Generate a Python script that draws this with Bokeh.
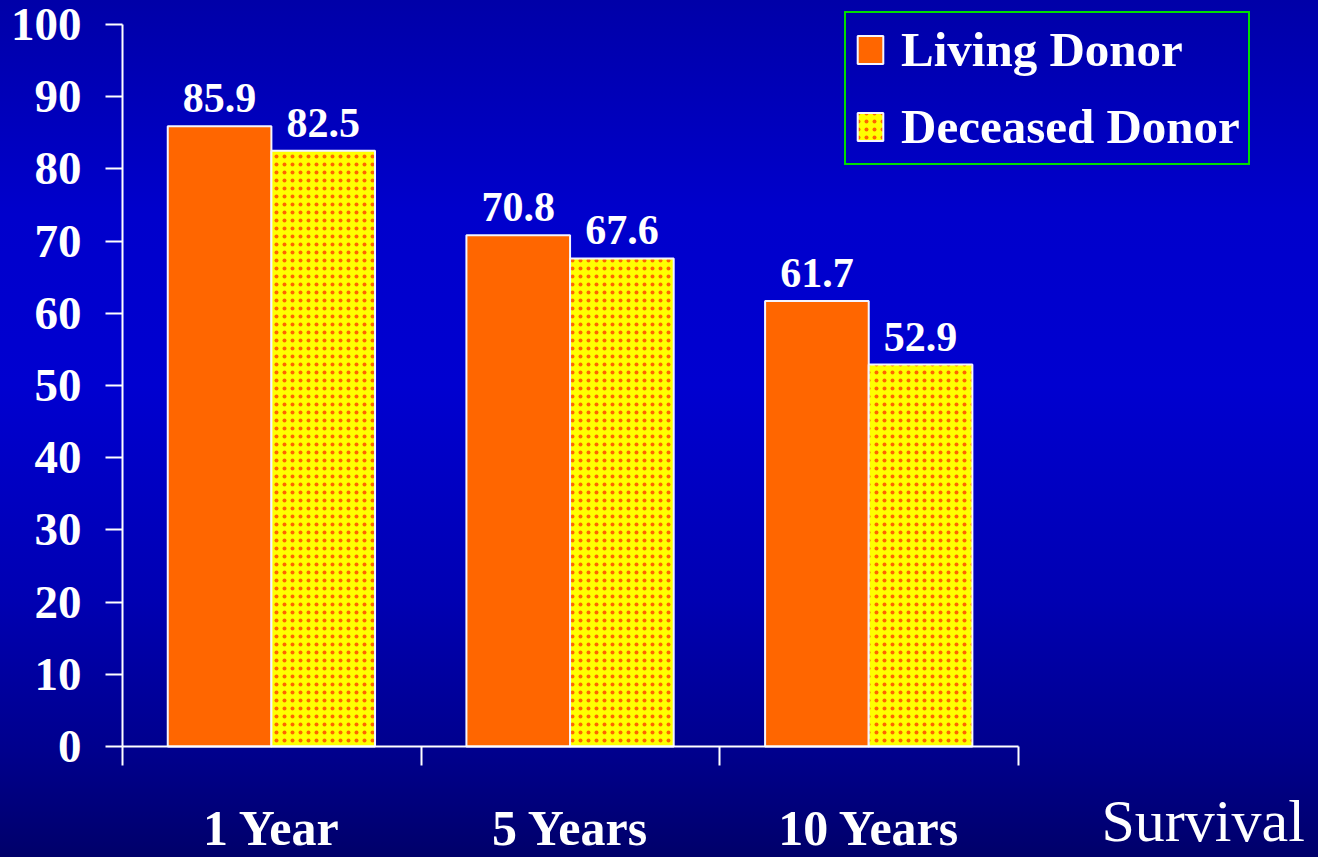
from bokeh.core.properties import value
from bokeh.embed import file_html
from bokeh.models import (ColumnDataSource, FixedTicker, InlineStyleSheet,
                          Label, Range1d)
from bokeh.plotting import figure
from bokeh.resources import INLINE

# Graft survival (%) by donor type
periods = ["1 Year", "5 Years", "10 Years"]
living = [85.9, 70.8, 61.7]
deceased = [82.5, 67.6, 52.9]
y_ticks = [0, 10, 20, 30, 40, 50, 60, 70, 80, 90, 100]

SERIF = "Liberation Serif"
W, H = 1318, 857

# Page geometry (pixels): plot origin and scale of one unit on each axis
X0_PX, PX_PER_X = 122, 298.67      # x = 0 at 122 px, one period = 298.67 px
Y0_PX, PX_PER_Y = 746, 7.22        # y = 0 at 746 px from the top

idx = list(range(len(periods)))
label_lift = 28 / PX_PER_Y          # raises the value labels clear of the bar tops
src = ColumnDataSource(dict(
    x_live=[i + 0.325 for i in idx],
    x_dec=[i + 0.672 for i in idx],
    living=living,
    deceased=deceased,
    living_lbl=[v + label_lift for v in living],
    deceased_lbl=[v + label_lift for v in deceased],
    living_txt=[f"{v:.1f}" for v in living],
    deceased_txt=[f"{v:.1f}" for v in deceased],
))

# The frame spans the whole canvas; axes are pinned at x = 0 and y = 0
x_lo = -X0_PX / PX_PER_X
x_hi = (W - X0_PX) / PX_PER_X
y_hi = Y0_PX / PX_PER_Y
y_lo = -(H - Y0_PX) / PX_PER_Y

p = figure(width=W, height=H,
           x_range=Range1d(x_lo, x_hi), y_range=Range1d(y_lo, y_hi),
           output_backend="svg", toolbar_location=None, min_border=0)

p.background_fill_alpha = 0
p.border_fill_alpha = 0
p.outline_line_color = None
p.xgrid.grid_line_color = None
p.ygrid.grid_line_color = None
p.stylesheets.append(InlineStyleSheet(css="""
:host {
  background: linear-gradient(to bottom, #0000a8 0%, #0000cc 25%, #0000d0 45%,
                              #0000b2 70%, #00008c 88%, #00006a 100%);
}
"""))

bar_w = 0.347
p.vbar(x="x_live", top="living", width=bar_w, source=src,
       fill_color="#ff6600", line_color="#f4f4ff", line_width=2,
       legend_label="Living Donor")
p.vbar(x="x_dec", top="deceased", width=bar_w, source=src,
       fill_color="#ffff00", hatch_pattern="dot", hatch_color="#ff6600",
       hatch_scale=8, hatch_weight=4.5,
       line_color="#f4f4ff", line_width=2,
       legend_label="Deceased Donor")

for xcol, ycol, tcol in (("x_live", "living_lbl", "living_txt"),
                         ("x_dec", "deceased_lbl", "deceased_txt")):
    p.text(x=xcol, y=ycol, text=tcol, source=src,
           text_font=value(SERIF), text_font_style="bold", text_font_size="42px",
           text_color="white", text_align="center", text_baseline="alphabetic")

# y axis
ya = p.yaxis[0]
ya.fixed_location = 0
ya.bounds = (y_ticks[0], y_ticks[-1])
ya.ticker = FixedTicker(ticks=y_ticks)
ya.axis_line_color = "white"
ya.axis_line_width = 2
ya.major_tick_line_color = "white"
ya.major_tick_line_width = 2
ya.major_tick_out = 17
ya.major_tick_in = 0
ya.minor_tick_line_color = None
ya.major_label_text_font = SERIF
ya.major_label_text_font_style = "bold"
ya.major_label_text_font_size = "47px"
ya.major_label_text_color = "white"
ya.major_label_standoff = 24

# x axis: labels centred on each period, tick marks on the boundaries
xa = p.xaxis[0]
xa.fixed_location = 0
xa.bounds = (0, len(periods))
centres = [i + 0.5 for i in idx]
xa.ticker = FixedTicker(ticks=centres, minor_ticks=[0] + [i + 1 for i in idx])
xa.major_label_overrides = {c: name for c, name in zip(centres, periods)}
xa.axis_line_color = "white"
xa.axis_line_width = 2
xa.major_tick_line_color = None
xa.major_tick_out = 0
xa.major_tick_in = 0
xa.minor_tick_line_color = "white"
xa.minor_tick_line_width = 2
xa.minor_tick_out = 19
xa.minor_tick_in = 0
xa.major_label_text_font = SERIF
xa.major_label_text_font_style = "bold"
xa.major_label_text_font_size = "50px"
xa.major_label_text_color = "white"
xa.major_label_standoff = 34

p.add_layout(Label(x=(1101 - X0_PX) / PX_PER_X, y=-(820 - Y0_PX) / PX_PER_Y,
                   text="Survival",
                   text_font=SERIF, text_font_size="60px", text_color="white",
                   text_align="left", text_baseline="alphabetic"))

lg = p.legend[0]
lg.location = (844, H - 165)
lg.background_fill_alpha = 0
lg.border_line_color = "#00dd00"
lg.border_line_alpha = 1
lg.border_line_width = 2
lg.label_text_font = SERIF
lg.label_text_font_style = "bold"
lg.label_text_font_size = "49px"
lg.label_text_color = "white"
lg.glyph_width = 32
lg.glyph_height = 35
lg.label_standoff = 15
lg.padding = 8
lg.spacing = 20
lg.margin = 0

open("out.html", "w").write(file_html(p, INLINE))
